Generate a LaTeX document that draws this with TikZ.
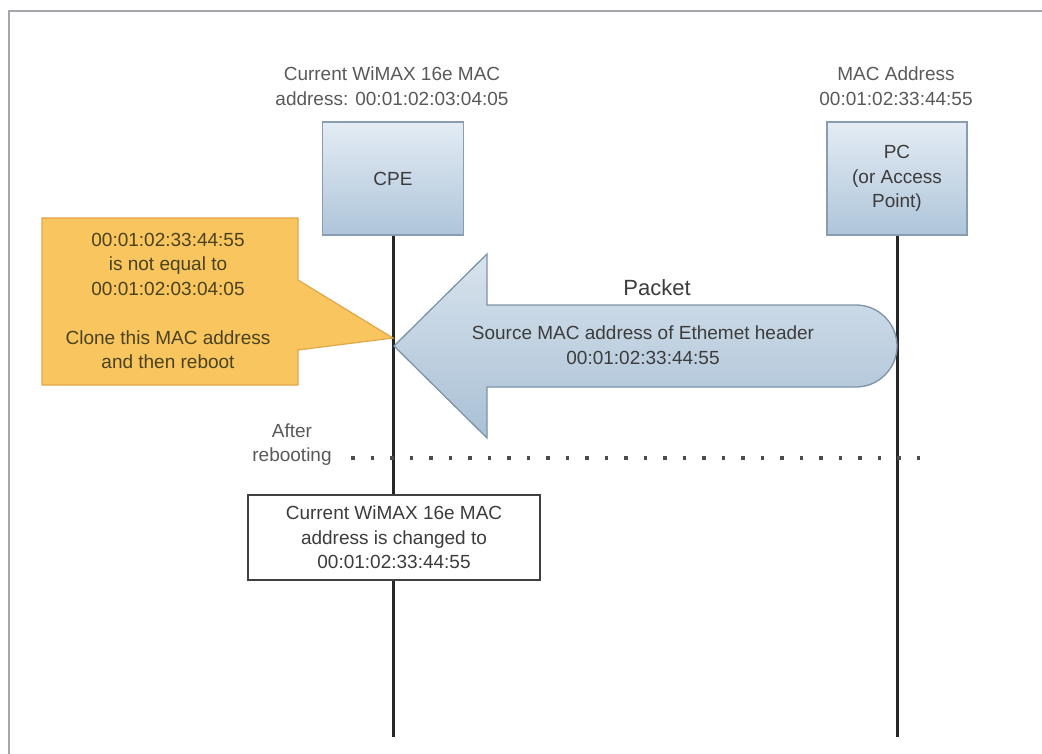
\documentclass[tikz,border=0pt]{standalone}
\usepackage{fontspec}
\setmainfont{Liberation Sans}
\definecolor{framec}{HTML}{A4A8AD}
\definecolor{boxtop}{HTML}{E4ECF4}
\definecolor{boxbot}{HTML}{AEC5DA}
\definecolor{boxedge}{HTML}{8A9DB0}
\definecolor{arrtop}{HTML}{D8E3ED}
\definecolor{arrbot}{HTML}{A9C0D5}
\definecolor{arredge}{HTML}{7D93A8}
\definecolor{callfill}{HTML}{F8C55E}
\definecolor{calledge}{HTML}{E3A648}
\definecolor{calltext}{HTML}{4A4220}
\definecolor{txt}{HTML}{3C3C3C}
\tikzset{
  base/.style={font=\fontsize{19}{24.5}\selectfont, text=txt, align=center},
  hdr/.style={base, text=txt!85},
  actor/.style={base, draw=boxedge, line width=1.6pt, top color=boxtop, bottom color=boxbot, inner sep=0pt},
  life/.style={line width=3pt, black!85},
  note/.style={base, draw=black!75, line width=1.5pt, fill=white, inner sep=0pt},
}
\begin{document}
\begin{tikzpicture}[x=1pt,y=-1pt]
\useasboundingbox (0,0) rectangle (1042,754);
% frame
\draw[framec, line width=2.5pt] (9,754) -- (9,11) -- (1042,11);

% headers
\node[hdr] (cpehdr) at (392,86) {Current WiMAX 16e MAC\\address: 00:01:02:03:04:05};
\node[hdr] (pchdr) at (896,86) {MAC Address\\00:01:02:33:44:55};

% actor boxes
\node[actor, minimum width=141pt, minimum height=113pt] (cpe) at (393,178.5) {CPE};
\node[actor, minimum width=140pt, minimum height=113pt] (pc) at (897,178.5) {PC\\(or Access\\Point)};

% lifelines
\coordinate (cpeend) at (393,737);
\coordinate (pcend) at (897,737);
\draw[life] (cpe.south) -- (cpeend);
\draw[life] (pc.south) -- (pcend);

% big packet arrow
\draw[draw=arredge, line width=1.3pt, top color=arrtop, bottom color=arrbot]
  (394,346) -- (487,254) -- (487,305) -- (856,305)
  .. controls (878.6,305) and (897,323.4) .. (897,346)
  .. controls (897,368.6) and (878.6,387) .. (856,387)
  -- (487,387) -- (487,438) -- cycle;
\node[base, font=\fontsize{22}{24}\selectfont] (packet) at (657,288) {Packet};
\node[base] (src) at (643,345) {Source MAC address of Ethemet header\\00:01:02:33:44:55};

% callout
\draw[draw=calledge, line width=1.2pt, fill=callfill]
  (42,218) -- (298,218) -- (298,280) -- (393,338) -- (298,350) -- (298,385) -- (42,385) -- cycle;
\node[base, text=calltext] (calltxt) at (168,301) {00:01:02:33:44:55\\is not equal to\\00:01:02:03:04:05\\[24.5pt]Clone this MAC address\\and then reboot};

% after rebooting
\coordinate (dotA) at (351,458);
\coordinate (dotB) at (930,458);
\draw[black!70, line width=3.5pt, dash pattern=on 3.5pt off 16pt] (dotA) -- (dotB);
\node[base, text=txt!85] (after) at (292,444.5) {After\\rebooting};

% changed box
\node[note, minimum width=292pt, minimum height=85pt] (changed) at (394,537.5) {Current WiMAX 16e MAC\\address is changed to\\00:01:02:33:44:55};
\end{tikzpicture}
\end{document}
